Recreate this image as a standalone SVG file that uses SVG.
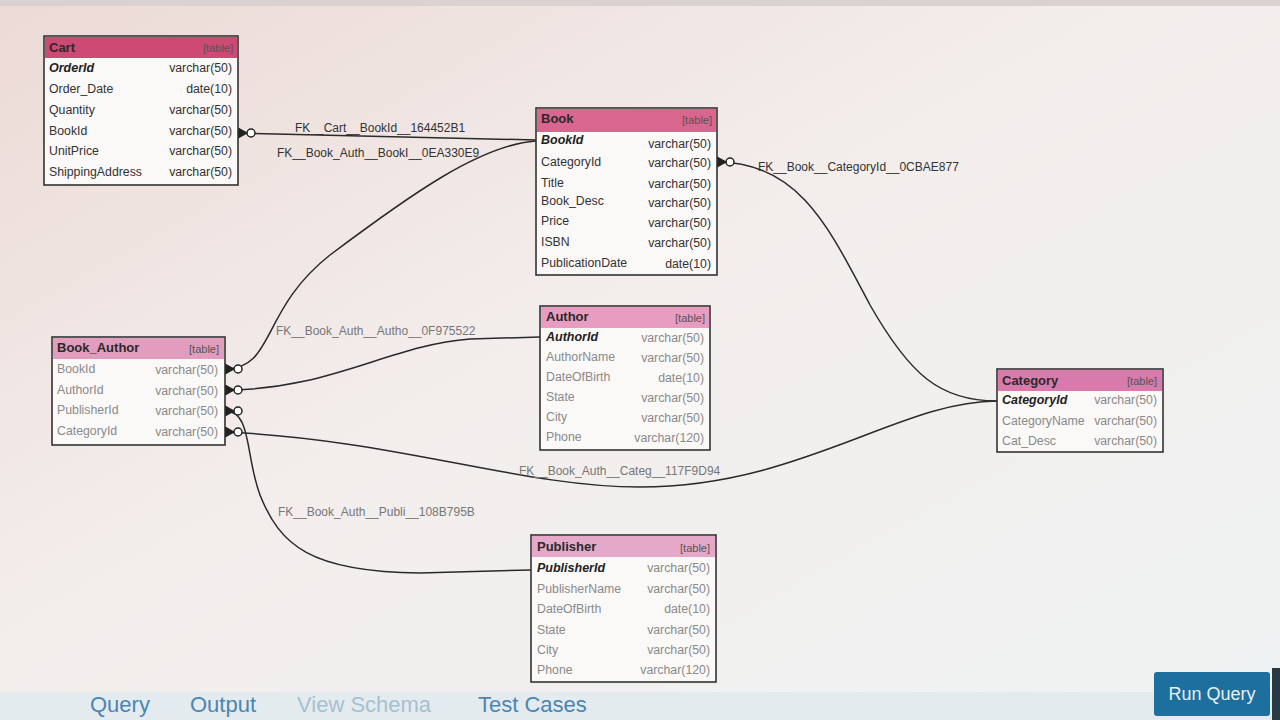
<svg xmlns="http://www.w3.org/2000/svg" width="1280" height="720" viewBox="0 0 1280 720">
<defs>
<linearGradient id="bg" x1="0" y1="0" x2="1" y2="1">
<stop offset="0" stop-color="#ecdad6"/>
<stop offset="0.45" stop-color="#f3eeec"/>
<stop offset="1" stop-color="#eef2f2"/>
</linearGradient>
<g id="cf">
<path d="M0,-5 L9,0 L0,5 Z M0,0 L9,0" fill="#222" stroke="#222" stroke-width="1.2"/>
<circle cx="13" cy="0" r="4" fill="#fff" stroke="#222" stroke-width="1.5"/>
</g>
<style>
.tbl{fill:#fbf8f8;stroke:#333;stroke-width:1.6}
.hdr{fill:#de7aa6}
.hd{font-family:"Liberation Sans",Arial,sans-serif;font-size:13px;font-weight:bold;fill:#2a2a2a}
.tg{font-family:"Liberation Sans",Arial,sans-serif;font-size:11px;fill:#555;text-anchor:end}
.key{font-family:"Liberation Sans",Arial,sans-serif;font-size:12.5px;font-weight:bold;font-style:italic;fill:#222}
.col{font-family:"Liberation Sans",Arial,sans-serif;font-size:12.3px;fill:#555}
.typ{font-family:"Liberation Sans",Arial,sans-serif;font-size:12.3px;fill:#555;text-anchor:end}
.dk .col,.dk .typ{fill:#333}
.lt .col,.lt .typ{fill:#8a8a8a}
.con{fill:none;stroke:#2a2a2a;stroke-width:1.5}
.lbl{font-family:"Liberation Sans",Arial,sans-serif;font-size:12px;fill:#333}
.lbl2{font-family:"Liberation Sans",Arial,sans-serif;font-size:12px;fill:#777}
.tab{font-family:"Liberation Sans",Arial,sans-serif;font-size:22px;fill:#4a86b4}
</style>
</defs>
<rect width="1280" height="720" fill="url(#bg)"/>
<rect x="0" y="0" width="1280" height="6" fill="#d9d2d0"/>
<rect x="0" y="692" width="1280" height="28" fill="#e4ebee"/>

<g id="connectors">
<path class="con" d="M238,133 L536,140"/>
<path class="con" d="M225,369 C275,369 260,310 330,255 C410,195 480,145 536,141"/>
<path class="con" d="M717,162 C800,162 830,230 870,305 C910,375 940,401 997,401"/>
<path class="con" d="M225,390 C330,390 390,345 470,339 L540,337"/>
<path class="con" d="M225,411 C252,411 245,455 260,495 C280,545 310,572 420,573 L531,570"/>
<path class="con" d="M225,432 C400,440 520,487 640,487 C800,487 900,401 997,401"/>
<use href="#cf" x="238" y="133"/>
<use href="#cf" x="717" y="162"/>
<use href="#cf" x="225" y="369"/>
<use href="#cf" x="225" y="390"/>
<use href="#cf" x="225" y="411"/>
<use href="#cf" x="225" y="432"/>
<text class="lbl" x="295" y="132">FK__Cart__BookId__164452B1</text>
<text class="lbl" x="277" y="157">FK__Book_Auth__BookI__0EA330E9</text>
<text class="lbl" x="758" y="171">FK__Book__CategoryId__0CBAE877</text>
<text class="lbl2" x="276" y="335">FK__Book_Auth__Autho__0F975522</text>
<text class="lbl2" x="278" y="516">FK__Book_Auth__Publi__108B795B</text>
<text class="lbl2" x="519" y="475">FK__Book_Auth__Categ__117F9D94</text>
</g>

<g id="Cart" class="dk">
<rect class="tbl" x="44" y="36" width="194" height="149"/>
<rect class="hdr" x="45" y="37" width="192" height="21" style="fill:#cc4a74"/>
<text class="hd" x="49" y="52">Cart</text><text class="tg" x="233" y="52">[table]</text>
<text class="key" x="49" y="72">OrderId</text><text class="typ" x="232" y="72">varchar(50)</text>
<text class="col" x="49" y="93">Order_Date</text><text class="typ" x="232" y="93">date(10)</text>
<text class="col" x="49" y="114">Quantity</text><text class="typ" x="232" y="114">varchar(50)</text>
<text class="col" x="49" y="135">BookId</text><text class="typ" x="232" y="135">varchar(50)</text>
<text class="col" x="49" y="155">UnitPrice</text><text class="typ" x="232" y="155">varchar(50)</text>
<text class="col" x="49" y="176">ShippingAddress</text><text class="typ" x="232" y="176">varchar(50)</text>
</g>

<g id="Book" class="dk">
<rect class="tbl" x="536" y="108" width="181" height="167"/>
<rect class="hdr" x="537" y="109" width="179" height="23" style="fill:#d9668f"/>
<text class="hd" x="541" y="123">Book</text><text class="tg" x="712" y="124">[table]</text>
<text class="key" x="541" y="144">BookId</text><text class="typ" x="711" y="148">varchar(50)</text>
<text class="col" x="541" y="166">CategoryId</text><text class="typ" x="711" y="167">varchar(50)</text>
<text class="col" x="541" y="187">Title</text><text class="typ" x="711" y="188">varchar(50)</text>
<text class="col" x="541" y="205">Book_Desc</text><text class="typ" x="711" y="207">varchar(50)</text>
<text class="col" x="541" y="225">Price</text><text class="typ" x="711" y="227">varchar(50)</text>
<text class="col" x="541" y="246">ISBN</text><text class="typ" x="711" y="247">varchar(50)</text>
<text class="col" x="541" y="267">PublicationDate</text><text class="typ" x="711" y="268">date(10)</text>
</g>

<g id="Author" class="lt">
<rect class="tbl" x="540" y="306" width="170" height="144"/>
<rect class="hdr" x="541" y="307" width="168" height="21" style="fill:#e89cc0"/>
<text class="hd" x="546" y="321">Author</text><text class="tg" x="705" y="322">[table]</text>
<text class="key" x="546" y="341">AuthorId</text><text class="typ" x="704" y="342">varchar(50)</text>
<text class="col" x="546" y="361">AuthorName</text><text class="typ" x="704" y="362">varchar(50)</text>
<text class="col" x="546" y="381">DateOfBirth</text><text class="typ" x="704" y="382">date(10)</text>
<text class="col" x="546" y="401">State</text><text class="typ" x="704" y="402">varchar(50)</text>
<text class="col" x="546" y="421">City</text><text class="typ" x="704" y="422">varchar(50)</text>
<text class="col" x="546" y="441">Phone</text><text class="typ" x="704" y="442">varchar(120)</text>
</g>

<g id="Book_Author" class="lt">
<rect class="tbl" x="52" y="337" width="173" height="108"/>
<rect class="hdr" x="53" y="338" width="171" height="21" style="fill:#e29cbe"/>
<text class="hd" x="57" y="352">Book_Author</text><text class="tg" x="219" y="353">[table]</text>
<text class="col" x="57" y="373">BookId</text><text class="typ" x="218" y="374">varchar(50)</text>
<text class="col" x="57" y="394">AuthorId</text><text class="typ" x="218" y="395">varchar(50)</text>
<text class="col" x="57" y="414">PublisherId</text><text class="typ" x="218" y="415">varchar(50)</text>
<text class="col" x="57" y="435">CategoryId</text><text class="typ" x="218" y="436">varchar(50)</text>
</g>

<g id="Category" class="lt">
<rect class="tbl" x="997" y="369" width="166" height="83"/>
<rect class="hdr" x="998" y="370" width="164" height="21" style="fill:#d97aac"/>
<text class="hd" x="1002" y="385">Category</text><text class="tg" x="1157" y="385">[table]</text>
<text class="key" x="1002" y="404">CategoryId</text><text class="typ" x="1157" y="404">varchar(50)</text>
<text class="col" x="1002" y="425">CategoryName</text><text class="typ" x="1157" y="425">varchar(50)</text>
<text class="col" x="1002" y="445">Cat_Desc</text><text class="typ" x="1157" y="445">varchar(50)</text>
</g>

<g id="Publisher" class="lt">
<rect class="tbl" x="531" y="535" width="185" height="147"/>
<rect class="hdr" x="532" y="536" width="183" height="21" style="fill:#e4a8c8"/>
<text class="hd" x="537" y="551">Publisher</text><text class="tg" x="710" y="552">[table]</text>
<text class="key" x="537" y="572">PublisherId</text><text class="typ" x="710" y="572">varchar(50)</text>
<text class="col" x="537" y="593">PublisherName</text><text class="typ" x="710" y="593">varchar(50)</text>
<text class="col" x="537" y="613">DateOfBirth</text><text class="typ" x="710" y="613">date(10)</text>
<text class="col" x="537" y="634">State</text><text class="typ" x="710" y="634">varchar(50)</text>
<text class="col" x="537" y="654">City</text><text class="typ" x="710" y="654">varchar(50)</text>
<text class="col" x="537" y="674">Phone</text><text class="typ" x="710" y="674">varchar(120)</text>
</g>

<g id="tabs">
<text class="tab" x="90" y="712">Query</text>
<text class="tab" x="190" y="712">Output</text>
<text class="tab" x="297" y="712" style="fill:#a6c0d2">View Schema</text>
<text class="tab" x="478" y="712">Test Cases</text>
</g>
<g id="run-query">
<rect x="1154" y="672" width="116" height="44" rx="3" fill="#1d6f9e"/>
<text x="1212" y="700" text-anchor="middle" font-family="Liberation Sans, Arial, sans-serif" font-size="18" fill="#e8f0f4">Run Query</text>
</g>
<rect x="1272" y="668" width="8" height="52" fill="#2a3a44"/>
</svg>
